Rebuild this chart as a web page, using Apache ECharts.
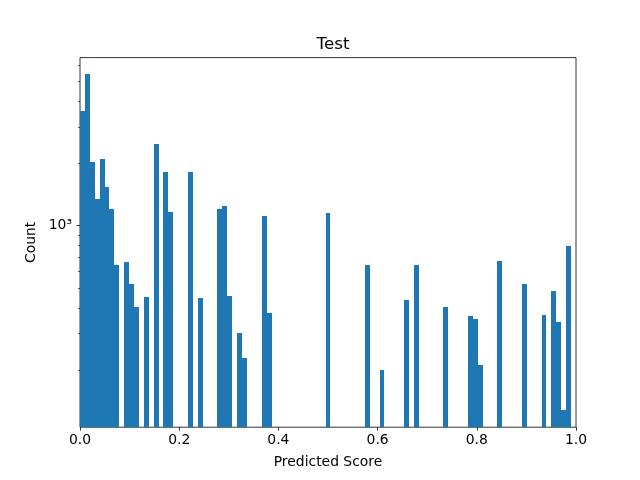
<!DOCTYPE html>
<html>
<head>
<meta charset="utf-8">
<script src="https://cdn.jsdelivr.net/npm/echarts@6/dist/echarts.min.js"></script>
<style>html,body{margin:0;padding:0;background:#fff}#c{width:640px;height:480px}</style>
</head>
<body>
<div id="c"></div>
<script>
// Histogram counts, 100 bins spanning 0 .. 0.99 (0 = empty bin)
const counts = [
  3594, 5433, 2035, 1347, 2104, 1545, 1205, 645, 0, 667,
  522, 404, 0, 451, 0, 2488, 0, 1820, 1165, 0,
  0, 0, 1820, 0, 446, 0, 0, 0, 1205, 1250,
  456, 0, 302, 229, 0, 0, 0, 1114, 378, 0,
  0, 0, 0, 0, 0, 0, 0, 0, 0, 0,
  1152, 0, 0, 0, 0, 0, 0, 0, 645, 0,
  0, 200, 0, 0, 0, 0, 436, 0, 645, 0,
  0, 0, 0, 0, 404, 0, 0, 0, 0, 365,
  353, 212, 0, 0, 0, 674, 0, 0, 0, 0,
  522, 0, 0, 0, 369, 0, 483, 341, 128, 797
];
const binStart = 0.0;
const binEnd = 0.99;
const xTicks = [0.0, 0.2, 0.4, 0.6, 0.8, 1.0];
const yMajorTicks = [1000];
const yMinorTicks = [200, 300, 400, 500, 600, 700, 800, 900, 2000, 3000, 4000, 5000, 6000];
const Y_MIN = 105.6, Y_MAX = 6523;
const title = 'Test';
const xName = 'Predicted Score';
const yName = 'Count';

const binW = (binEnd - binStart) / counts.length;
const barData = [];
counts.forEach((c, i) => {
  if (c > 0) barData.push([binStart + i * binW, binStart + (i + 1) * binW, c]);
});

const FONT = 'DejaVu Sans';
const chart = echarts.init(document.getElementById('c'), null, {renderer: 'canvas'});
const logMin = Math.log10(Y_MIN), logMax = Math.log10(Y_MAX);
chart.setOption({
  animation: false,
  backgroundColor: '#fff',
  title: {
    text: title, left: 328, top: 31, textAlign: 'center',
    textStyle: {fontFamily: FONT, fontSize: 16.7, fontWeight: 'normal', color: '#000'}
  },
  grid: {left: 80, right: 64, top: 57.6, bottom: 52.8, show: true, borderColor: '#000', borderWidth: 0.8, backgroundColor: 'transparent'},
  xAxis: {
    type: 'value', min: 0, max: 1, interval: 0.2,
    name: xName, nameLocation: 'middle', nameGap: 28,
    nameTextStyle: {fontFamily: FONT, fontSize: 13.9, color: '#000'},
    axisLine: {show: false},
    axisTick: {show: true, length: 3.5, lineStyle: {color: '#000', width: 0.8}},
    axisLabel: {fontFamily: FONT, fontSize: 13.9, color: '#000', margin: 6,
      formatter: v => xTicks.some(t => Math.abs(t - v) < 1e-9) ? v.toFixed(1) : ''},
    splitLine: {show: false}
  },
  yAxis: [
    {
      type: 'log', min: Y_MIN, max: Y_MAX, logBase: 10,
      name: yName, nameLocation: 'middle', nameGap: 42,
      nameTextStyle: {fontFamily: FONT, fontSize: 13.9, color: '#000'},
      axisLine: {show: false}, axisTick: {show: false}, axisLabel: {show: false},
      splitLine: {show: false}
    },
    {
      type: 'value', min: logMin, max: logMax, position: 'left',
      axisLine: {show: false}, splitLine: {show: false},
      axisTick: {show: true, length: 3.5, lineStyle: {color: '#000', width: 0.8},
        customValues: yMajorTicks.map(v => Math.log10(v))},
      axisLabel: {show: true, fontFamily: FONT, fontSize: 13.9, color: '#000', margin: 8,
        customValues: yMajorTicks.map(v => Math.log10(v)),
        formatter: v => '10' + '⁰¹²³⁴⁵⁶⁷⁸⁹'[Math.round(v)]}
    },
    {
      type: 'value', min: logMin, max: logMax, position: 'left',
      axisLine: {show: false}, splitLine: {show: false},
      axisTick: {show: true, length: 2, lineStyle: {color: '#000', width: 0.6},
        customValues: yMinorTicks.map(v => Math.log10(v))},
      axisLabel: {show: false}
    }
  ],
  series: [{
    type: 'custom',
    xAxisIndex: 0, yAxisIndex: 0,
    data: barData,
    encode: {x: [0, 1], y: 2},
    renderItem: (params, api) => {
      const p0 = api.coord([api.value(0), api.value(2)]);
      const p1 = api.coord([api.value(1), Y_MIN]);
      const x0 = Math.round(p0[0]), x1 = Math.round(p1[0]);
      const y0 = Math.round(p0[1]), y1 = p1[1];
      return {
        type: 'rect',
        shape: {x: x0, y: y0, width: x1 - x0, height: y1 - y0},
        style: {fill: '#1f77b4'}
      };
    }
  }]
});
</script>
</body>
</html>
